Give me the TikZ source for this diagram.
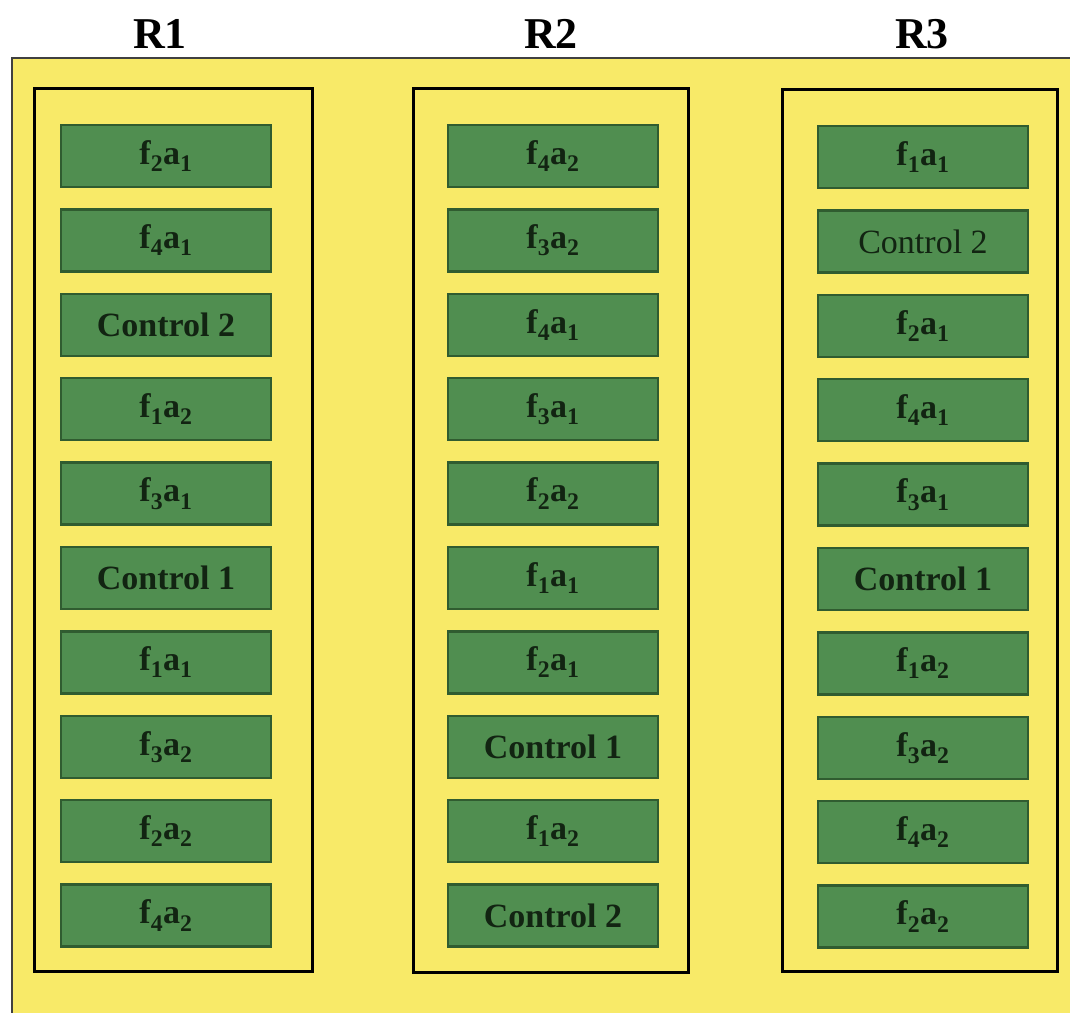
\documentclass[tikz,border=0pt]{standalone}
\usepackage{fontspec}
\setmainfont{Liberation Serif}
\definecolor{bgyellow}{RGB}{248,234,104}
\definecolor{cellgreen}{RGB}{80,142,80}
\definecolor{cellborder}{RGB}{48,92,48}
\definecolor{celltext}{RGB}{18,36,18}
\newcommand\fa[2]{f\textsubscript{#1}a\textsubscript{#2}}
\tikzset{
  cell/.style={draw=cellborder, line width=2.5pt, fill=cellgreen, minimum width=210pt, minimum height=62pt, inner sep=0pt, text=celltext, font=\bfseries\fontsize{34}{40}\selectfont},
  colbox/.style={draw=black, line width=3pt},
  title/.style={font=\bfseries\fontsize{44}{50}\selectfont, text=black}
}
\begin{document}
\begin{tikzpicture}[x=1pt,y=-1pt]
\useasboundingbox (0,0) rectangle (1070,1012);
\fill[white] (0,0) rectangle (1070,1012);
\draw[fill=bgyellow, draw=black!75, line width=1.5pt] (12,58) rectangle (1075,1020);
\node[title] (t1) at (160,34) {R1};
\node[title] (t2) at (551,34) {R2};
\node[title] (t3) at (922,34) {R3};
\draw[colbox] (34,88) rectangle (312,971);
\draw[colbox] (413,88) rectangle (688,972);
\draw[colbox] (782,89) rectangle (1057,971);
\foreach \t [count=\i] in {\fa21,\fa41,Control 2,\fa12,\fa31,Control 1,\fa11,\fa32,\fa22,\fa42}
  \node[cell] (a\i) at (166,{156+(\i-1)*84.4}) {\t};
\foreach \t [count=\i] in {\fa42,\fa32,\fa41,\fa31,\fa22,\fa11,\fa21,Control 1,\fa12,Control 2}
  \node[cell] (b\i) at (553,{156+(\i-1)*84.4}) {\t};
\foreach \t [count=\i] in {\fa11,{\mdseries Control 2},\fa21,\fa41,\fa31,Control 1,\fa12,\fa32,\fa42,\fa22}
  \node[cell] (c\i) at (923,{157+(\i-1)*84.4}) {\t};
\end{tikzpicture}
\end{document}
